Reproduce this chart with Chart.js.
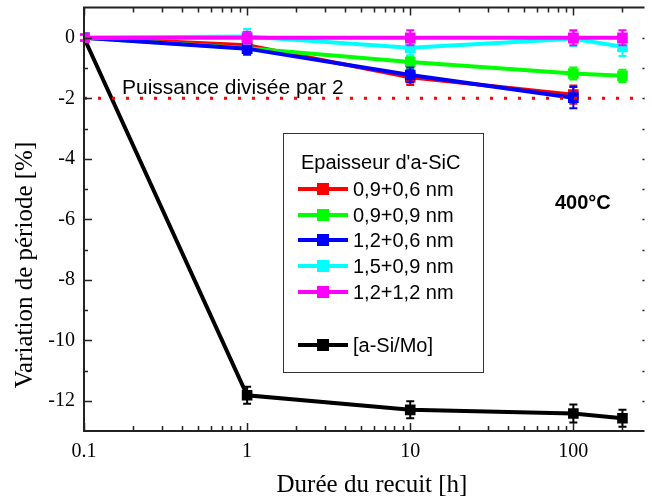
<!DOCTYPE html>
<html>
<head>
<meta charset="utf-8">
<script src="https://cdn.jsdelivr.net/npm/chart.js@4"></script>
<style>
  html, body { margin: 0; padding: 0; background: #fff; }
  #wrap { width: 652px; height: 501px; }
</style>
</head>
<body>
<div id="wrap"><canvas id="c"></canvas></div>
<script>
// annealing durations [h]
const durations = [0.1, 1, 10, 100, 200];

// period variation [%] per a-SiC thickness
const red = [0, -0.25, -1.31, -1.88];
const green = [0, -0.35, -0.8, -1.18, -1.26];
const blue = [0, -0.36, -1.23, -1.98];
const cyan = [0, 0.04, -0.33, -0.03, -0.3];
const magenta = [0, 0, 0, 0, 0];
const black = [0, -11.82, -12.3, -12.42, -12.58];

// error bars (half-height, %)
const redErr = [0.1, 0.15, 0.25, 0.3];
const greenErr = [0.1, 0.15, 0.2, 0.2, 0.2];
const blueErr = [0.1, 0.2, 0.25, 0.35];
const cyanErr = [0.1, 0.25, 0.25, 0.25, 0.3];
const magentaErr = [0.1, 0.2, 0.25, 0.25, 0.25];
const blackErr = [0.1, 0.28, 0.28, 0.3, 0.28];

const seriesLabels = ['0,9+0,6 nm', '0,9+0,9 nm', '1,2+0,6 nm', '1,5+0,9 nm', '1,2+1,2 nm', '[a-Si/Mo]'];
const seriesColors = ['#ff0000', '#00ff00', '#0000ff', '#00ffff', '#ff00ff', '#000000'];

const yTicks = [0, -2, -4, -6, -8, -10, -12];
const xTicks = [0.1, 1, 10, 100];
const xMinor = [0.2, 0.3, 0.4, 0.5, 0.6, 0.7, 0.8, 0.9, 2, 3, 4, 5, 6, 7, 8, 9,
                20, 30, 40, 50, 60, 70, 80, 90, 200];
const halfPowerLevel = -2;
const X_MAX = 273;

const serif = '"Liberation Serif", "Times New Roman", serif';
const sans = '"Liberation Sans", Arial, sans-serif';

function pts(vals) {
  return vals.map((v, i) => ({ x: durations[i], y: v }));
}

const allVals = [red, green, blue, cyan, magenta, black];
const allErr = [redErr, greenErr, blueErr, cyanErr, magentaErr, blackErr];

const datasets = allVals.map((vals, i) => ({
  label: seriesLabels[i],
  data: pts(vals),
  errors: allErr[i],
  borderColor: seriesColors[i],
  backgroundColor: seriesColors[i],
  borderWidth: 4,
  pointStyle: 'rect',
  pointRadius: 7.5,
  pointBorderWidth: 0,
  tension: 0,
  order: i === 5 ? 10 : 6 - i
}));

datasets.push({
  label: 'Puissance divisée par 2',
  data: [{ x: 0.1, y: halfPowerLevel }, { x: X_MAX, y: halfPowerLevel }],
  borderColor: '#ff0000',
  borderWidth: 3,
  borderDash: [3, 11],
  pointRadius: 0,
  order: 0
});

// error bars drawn right after each dataset so layering follows the lines
const errorBars = {
  id: 'errorBars',
  afterDatasetDraw(chart, args) {
    const ds = chart.data.datasets[args.index];
    if (!ds.errors) return;
    const ctx = chart.ctx;
    const y = chart.scales.y;
    ctx.save();
    ctx.strokeStyle = ds.borderColor;
    ctx.lineWidth = 2;
    args.meta.data.forEach((el, j) => {
      const e = ds.errors[j];
      const v = ds.data[j].y;
      const top = y.getPixelForValue(v + e);
      const bot = y.getPixelForValue(v - e);
      ctx.beginPath();
      ctx.moveTo(el.x, top); ctx.lineTo(el.x, bot);
      ctx.moveTo(el.x - 4, top); ctx.lineTo(el.x + 4, top);
      ctx.moveTo(el.x - 4, bot); ctx.lineTo(el.x + 4, bot);
      ctx.stroke();
    });
    ctx.restore();
  }
};

// Origin-style frame with inward ticks, titles, annotations and legend
const decorations = {
  id: 'decorations',
  afterDraw(chart) {
    const ctx = chart.ctx;
    const a = chart.chartArea;
    const xs = chart.scales.x, ys = chart.scales.y;
    ctx.save();
    ctx.strokeStyle = '#222';
    ctx.lineWidth = 2;
    ctx.beginPath();
    ctx.moveTo(a.right, a.top); ctx.lineTo(a.left, a.top);
    ctx.lineTo(a.left, a.bottom); ctx.lineTo(a.right, a.bottom);
    ctx.stroke();

    ctx.lineWidth = 1.5;
    ctx.beginPath();
    const tickX = (v, len) => {
      const px = Math.round(xs.getPixelForValue(v)) + 0.5;
      ctx.moveTo(px, a.bottom); ctx.lineTo(px, a.bottom - len);
      ctx.moveTo(px, a.top); ctx.lineTo(px, a.top + len);
    };
    xTicks.forEach(v => tickX(v, 8));
    xMinor.forEach(v => tickX(v, 5));
    for (let v = 0; v >= -12; v--) {
      const py = Math.round(ys.getPixelForValue(v)) + 0.5;
      const len = v % 2 === 0 ? 8 : 4;
      ctx.moveTo(a.left, py); ctx.lineTo(a.left + len, py);
      ctx.moveTo(a.right, py); ctx.lineTo(a.right - 2, py);
    }
    ctx.stroke();

    // axis titles
    ctx.fillStyle = '#000';
    ctx.font = '25px ' + serif;
    ctx.textAlign = 'center';
    ctx.textBaseline = 'middle';
    ctx.fillText('Durée du recuit [h]', 372, 485);
    ctx.save();
    ctx.translate(25, 265);
    ctx.rotate(-Math.PI / 2);
    ctx.fillText('Variation de période [%]', 0, 0);
    ctx.restore();

    // annotations
    ctx.textAlign = 'left';
    ctx.font = '21px ' + sans;
    ctx.fillText('Puissance divisée par 2', 122, 88);
    ctx.font = 'bold 20px ' + sans;
    ctx.fillText('400°C', 555, 203);

    // legend box
    ctx.strokeStyle = '#333';
    ctx.lineWidth = 1;
    ctx.fillStyle = '#fff';
    ctx.fillRect(283.5, 133.5, 200, 239);
    ctx.strokeRect(283.5, 133.5, 200, 239);
    ctx.fillStyle = '#000';
    ctx.font = '20px ' + sans;
    ctx.fillText("Epaisseur d'a-SiC", 301, 163);
    const rows = [189, 215, 240, 266, 292, 345];
    rows.forEach((ry, i) => {
      ctx.strokeStyle = seriesColors[i];
      ctx.fillStyle = seriesColors[i];
      ctx.lineWidth = 4;
      ctx.beginPath();
      ctx.moveTo(298, ry); ctx.lineTo(348, ry);
      ctx.stroke();
      ctx.fillRect(317, ry - 6, 12, 12);
      ctx.fillStyle = '#000';
      ctx.fillText(seriesLabels[i], 353, ry + 1);
    });
    ctx.restore();
  }
};

new Chart(document.getElementById('c'), {
  type: 'line',
  data: { datasets },
  options: {
    responsive: true,
    maintainAspectRatio: false,
    animation: false,
    layout: { padding: { top: 6, right: 0, left: 0, bottom: 0 } },
    plugins: { legend: { display: false }, tooltip: { enabled: false } },
    scales: {
      x: {
        type: 'logarithmic',
        min: 0.1,
        max: X_MAX,
        border: { display: false },
        grid: { display: false, drawTicks: false },
        afterBuildTicks: s => { s.ticks = xTicks.map(v => ({ value: v })); },
        afterFit: s => { s.height = 70; s.paddingLeft = 0; s.paddingRight = 0; },
        ticks: {
          padding: 9,
          maxRotation: 0,
          autoSkip: false,
          color: '#000',
          font: { family: serif, size: 20 },
          callback: v => String(v)
        }
      },
      y: {
        min: -13,
        max: 1,
        border: { display: false },
        grid: { display: false, drawTicks: false },
        afterBuildTicks: s => { s.ticks = yTicks.map(v => ({ value: v })); },
        afterFit: s => { s.width = 84; s.paddingTop = 0; s.paddingBottom = 0; },
        ticks: {
          padding: 9,
          color: '#000',
          font: { family: serif, size: 20 },
          callback: v => String(v)
        }
      }
    }
  },
  plugins: [errorBars, decorations]
});
</script>
</body>
</html>
